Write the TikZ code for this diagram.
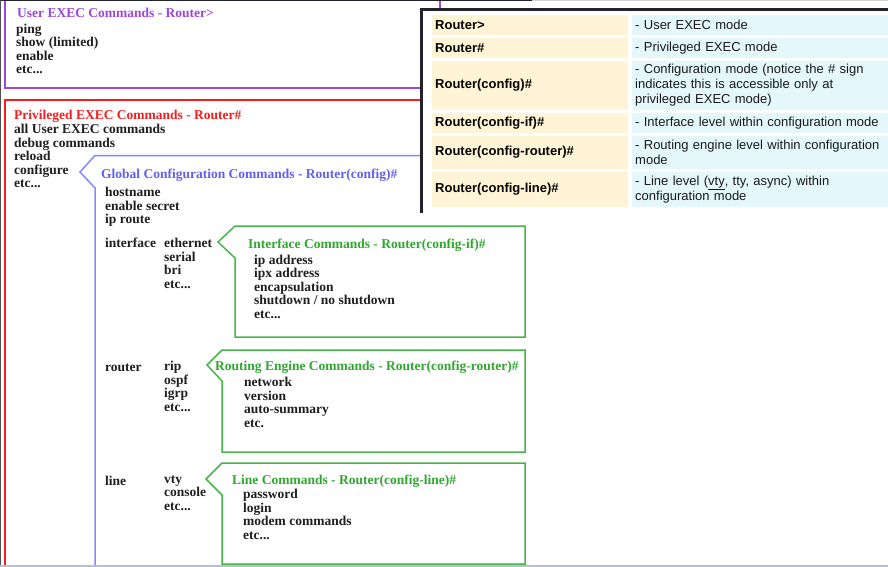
\documentclass[tikz,border=0pt]{standalone}
\usepackage{fontspec}
\setmainfont{Liberation Serif}
\setsansfont{Liberation Sans}
\usetikzlibrary{positioning}

\definecolor{userpurple}{RGB}{158,70,218}
\definecolor{privred}{RGB}{245,30,30}
\definecolor{globalblue}{RGB}{96,96,238}
\definecolor{globalline}{RGB}{135,135,255}
\definecolor{cmdgreen}{RGB}{48,168,48}
\definecolor{cmdline}{RGB}{72,182,72}
\definecolor{framedark}{RGB}{34,34,44}
\definecolor{cellbeige}{RGB}{255,245,214}
\definecolor{cellcyan}{RGB}{228,248,252}
\definecolor{barblue}{RGB}{182,192,208}

\begin{document}
\begin{tikzpicture}[x=1pt, y=-1pt,
    % Text styles
    heading/.style={anchor=base west, yshift=-1.5pt, inner sep=0pt, font=\bfseries\fontsize{13.5}{13.5}\selectfont},
    cmdtext/.style={anchor=north west, yshift=7.9pt, inner sep=0pt, align=left, text=black!88, execute at begin node=\strut, font=\bfseries\fontsize{13.5}{13.45}\selectfont},
    % Box styles
    userbox/.style={draw=userpurple, line width=1.3pt},
    privbox/.style={draw=privred, line width=1.3pt},
    globalbox/.style={draw=globalline, line width=1.5pt},
    cmdbox/.style={draw=cmdline, line width=1.5pt},
    % Table styles
    keycell/.style={anchor=north west, fill=cellbeige, inner xsep=3pt, inner ysep=0pt, text width=190pt, align=left, text=black, font=\sffamily\bfseries\fontsize{13}{15}\selectfont},
    desccell/.style={anchor=north west, fill=cellcyan, inner xsep=3pt, inner ysep=0pt, text width=260pt, align=left, text=black!90, font=\sffamily\fontsize{13}{15}\selectfont},
    ]

    \useasboundingbox (0,0) rectangle (888,567);
    \clip (0,0) rectangle (888,567);
    \fill[white] (0,0) rectangle (888,567);

    % User EXEC box
    \draw[userbox] (5,-5) rectangle (440,88);
    \node[heading, text=userpurple] (userhead) at (17,16) {User EXEC Commands - Router>};
    \node[cmdtext] (userlist) at (16,31.5) {ping\\show (limited)\\enable\\etc...};

    % Privileged EXEC box
    \draw[privbox] (5,600) -- (5,100) -- (440,100);
    \node[heading, text=privred] (privhead) at (14,117.7) {Privileged EXEC Commands - Router\#};
    \node[cmdtext] (privlist) at (14,132.3) {all User EXEC commands\\debug commands\\reload\\configure\\etc...};

    % Global configuration callout
    \draw[globalbox] (440,155.5) -- (95,155.5) -- (80,172) -- (95,188) -- (95,600);
    \node[heading, text=globalblue] (globalhead) at (101,176.7) {Global Configuration Commands - Router(config)\#};
    \node[cmdtext] (globallist) at (105,195) {hostname\\enable secret\\ip route};

    % interface / router / line rows
    \node[cmdtext] (ifword) at (105,246) {interface};
    \node[cmdtext] (iflist) at (164,246) {ethernet\\serial\\bri\\etc...};
    \node[cmdtext] (rtword) at (105,369.3) {router};
    \node[cmdtext] (rtlist) at (164,369.3) {rip\\ospf\\igrp\\etc...};
    \node[cmdtext] (lnword) at (105,483.3) {line};
    \node[cmdtext] (lnlist) at (164,483.3) {vty\\console\\etc...};

    % Interface callout
    \draw[cmdbox] (235,258) -- (218,242) -- (235,226) -- (525,226) -- (525,337) -- (235,337) -- cycle;
    \node[heading, text=cmdgreen] (ifhead) at (248,246.7) {Interface Commands - Router(config-if)\#};
    \node[cmdtext] (ifcmds) at (254,262.7) {ip address\\ipx address\\encapsulation\\shutdown / no shutdown\\etc...};

    % Routing engine callout
    \draw[cmdbox] (222,381) -- (207,365) -- (222,350) -- (525,350) -- (525,452) -- (222,452) -- cycle;
    \node[heading, text=cmdgreen] (rthead) at (215,369.3) {Routing Engine Commands - Router(config-router)\#};
    \node[cmdtext] (rtcmds) at (244,385) {network\\version\\auto-summary\\etc.};

    % Line callout
    \draw[cmdbox] (222,495) -- (206,479) -- (222,463) -- (525,463) -- (525,564) -- (222,564) -- cycle;
    \node[heading, text=cmdgreen] (lnhead) at (232,483.3) {Line Commands - Router(config-line)\#};
    \node[cmdtext] (lncmds) at (243,497.3) {password\\login\\modem commands\\etc...};

    % Prompt table
    \fill[white] (420,8) rectangle (888,213);
    \node[keycell, minimum height=20pt] (k1) at (432,15) {Router>};
    \node[desccell, minimum height=20pt] (d1) at (632,15) {- User EXEC mode};
    \node[keycell, minimum height=20pt] (k2) at (432,37.5) {Router\#};
    \node[desccell, minimum height=20pt] (d2) at (632,37.5) {- Privileged EXEC mode};
    \node[keycell, minimum height=49.5pt] (k3) at (432,60.5) {Router(config)\#};
    \node[desccell, minimum height=49.5pt] (d3) at (632,60.5) {- Configuration mode (notice the \# sign\\indicates this is accessible only at\\privileged EXEC mode)};
    \node[keycell, minimum height=20pt] (k4) at (432,113) {Router(config-if)\#};
    \node[desccell, minimum height=20pt] (d4) at (632,113) {- Interface level within configuration mode};
    \node[keycell, minimum height=33pt] (k5) at (432,135.5) {Router(config-router)\#};
    \node[desccell, minimum height=33pt] (d5) at (632,135.5) {- Routing engine level within configuration\\mode};
    \node[keycell, minimum height=35.5pt] (k6) at (432,171.5) {Router(config-line)\#};
    \node[desccell, minimum height=35.5pt] (d6) at (632,171.5) {- Line level (\underline{vty}, tty, async) within\\configuration mode};
    \draw[framedark, line width=3pt] (421.5,212.5) -- (421.5,10) -- (890,10);

    % Window edges
    \draw[framedark, line width=1.5pt] (0,0.75) -- (532,0.75);
    \draw[gray!35, line width=1.5pt] (532,0.75) -- (888,0.75);
    \draw[framedark!80, line width=1.2pt] (0.6,0) -- (0.6,567);
    \fill[barblue] (0,565) rectangle (888,567);

\end{tikzpicture}
\end{document}
